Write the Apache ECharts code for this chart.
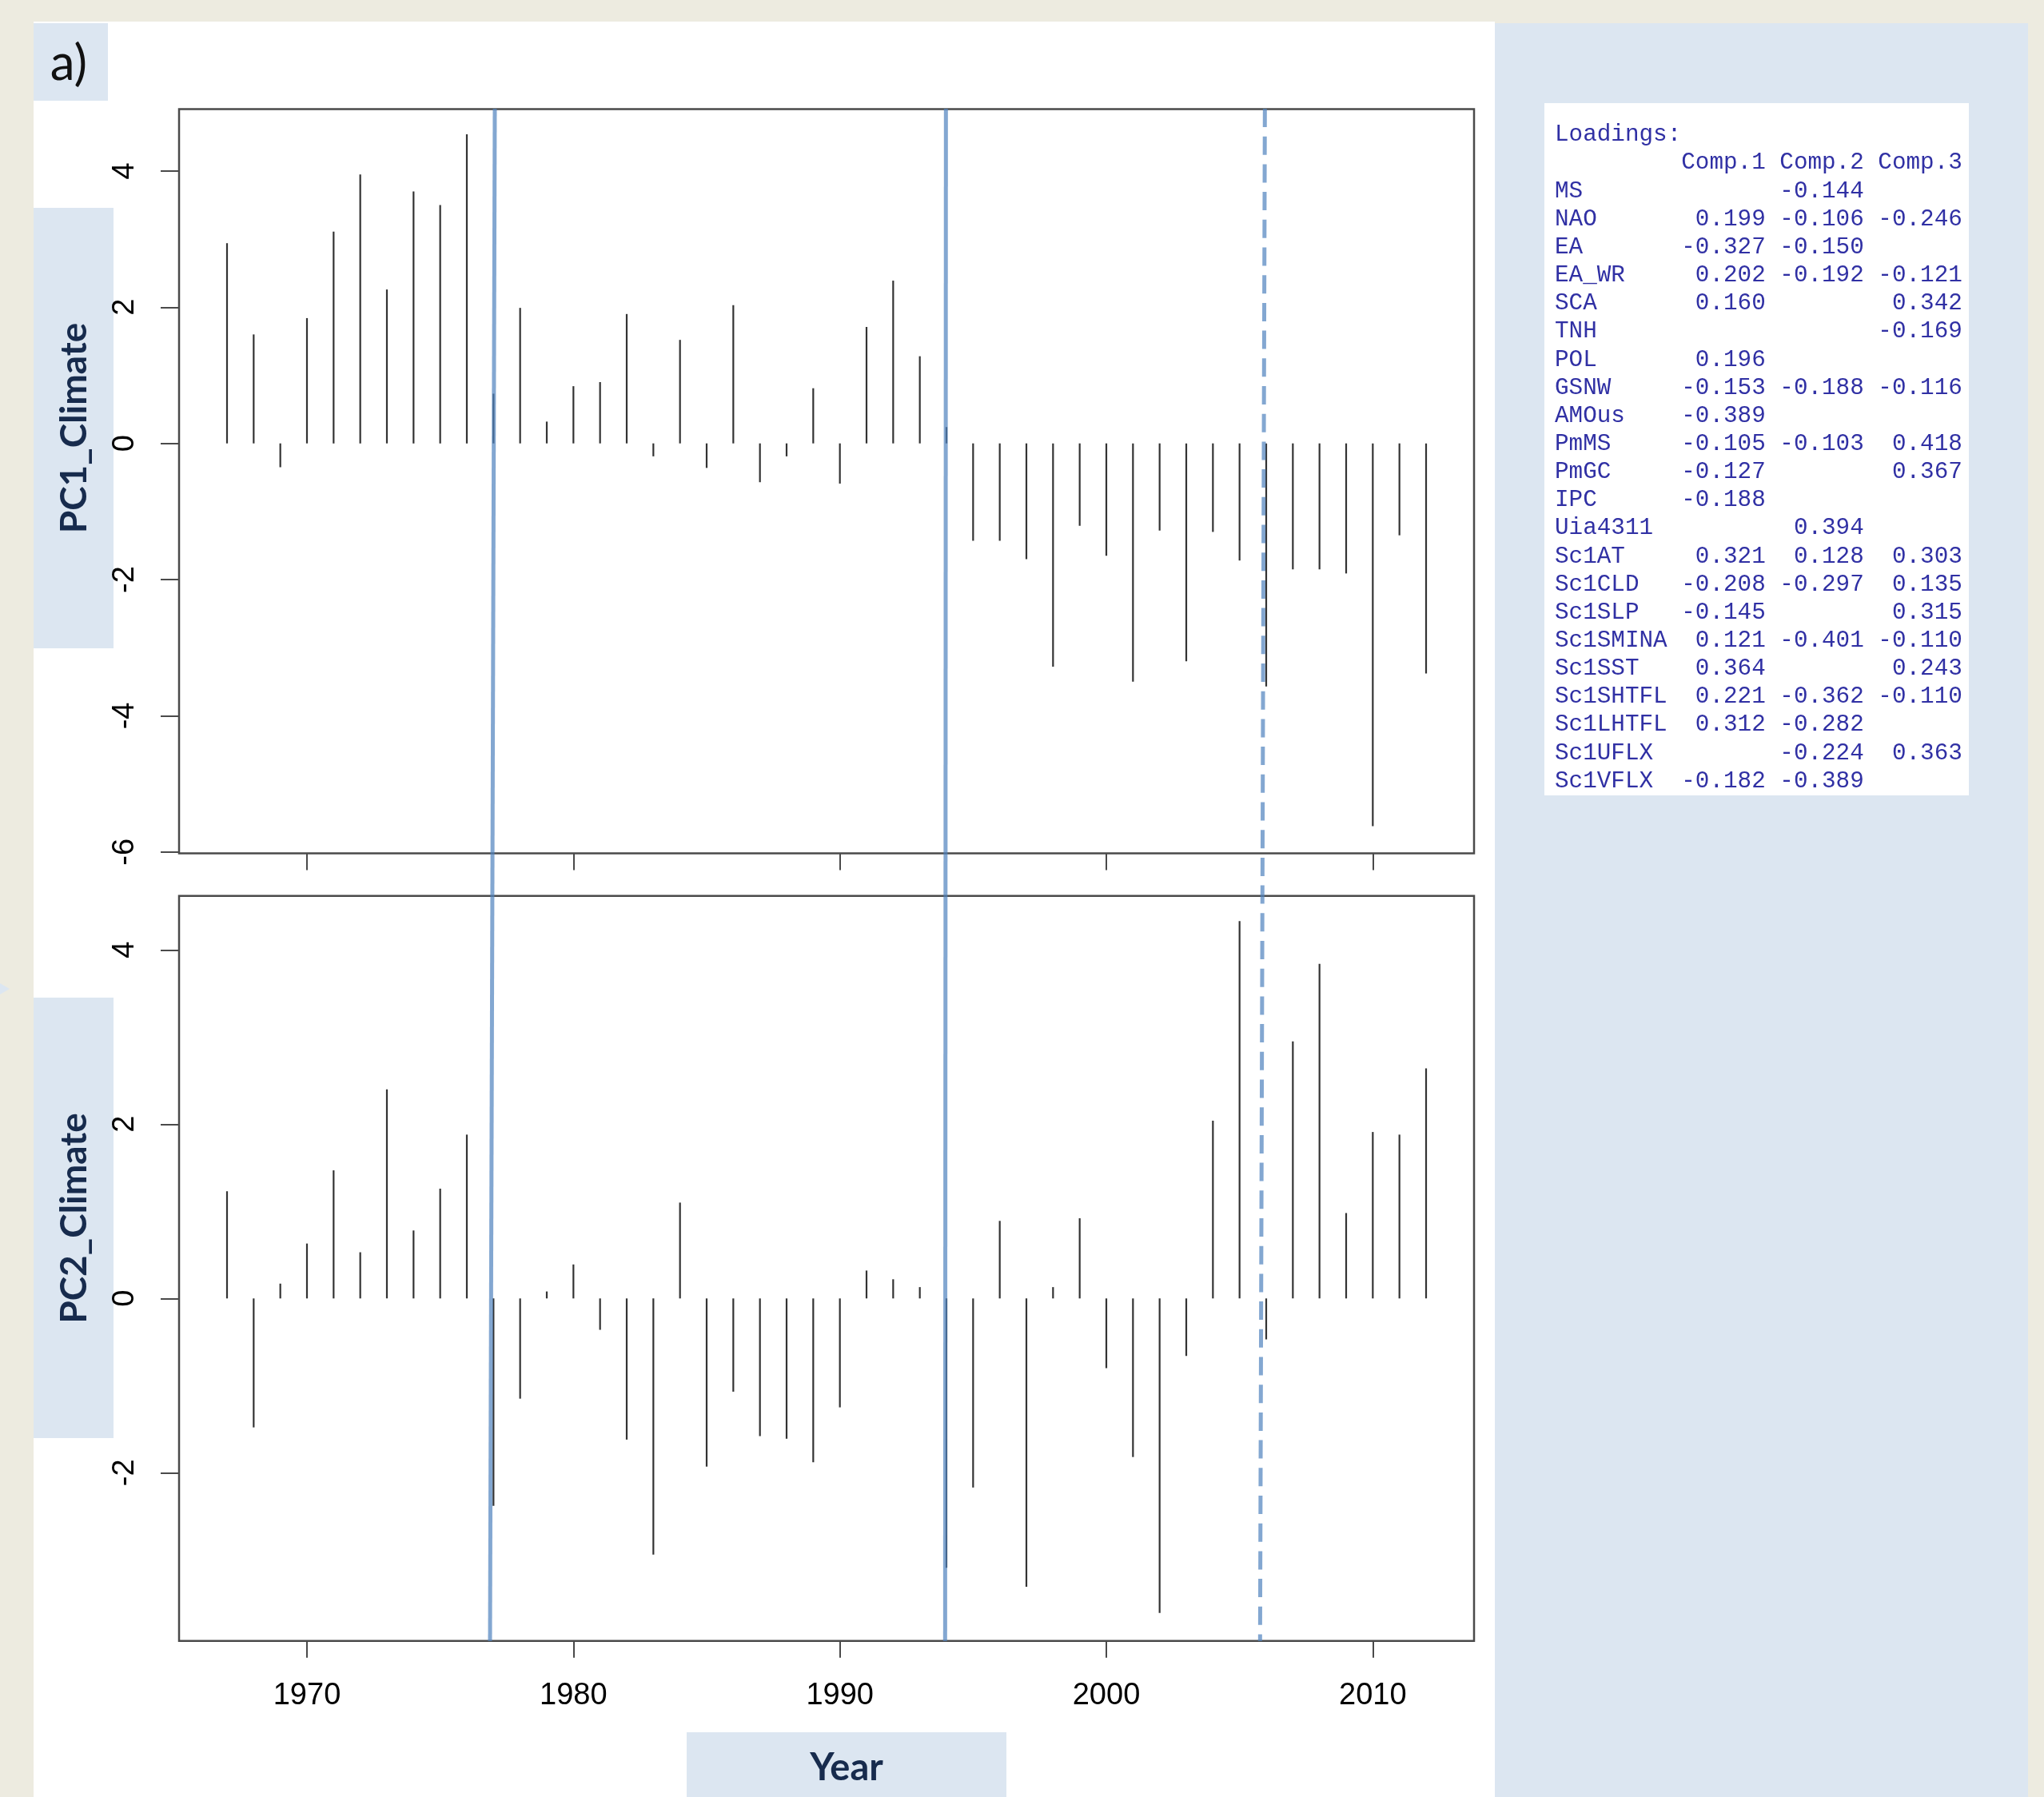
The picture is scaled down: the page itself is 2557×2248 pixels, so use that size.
<!DOCTYPE html>
<html><head><meta charset="utf-8">
<script src="https://cdn.jsdelivr.net/npm/echarts@6/dist/echarts.min.js"></script>
<style>html,body{margin:0;padding:0;background:#EDEBE0;}#c{width:2557px;height:2248px;}</style>
</head><body><div id="c"></div>
<script>
// ---------- data ----------
const years = [1967,1968,1969,1970,1971,1972,1973,1974,1975,1976,1977,1978,1979,1980,1981,1982,1983,1984,1985,1986,1987,1988,1989,1990,1991,1992,1993,1994,1995,1996,1997,1998,1999,2000,2001,2002,2003,2004,2005,2006,2007,2008,2009,2010,2011,2012];
const pc1 = [2.94,1.60,-0.35,1.84,3.11,3.95,2.26,3.70,3.50,4.54,0.73,1.99,0.32,0.84,0.90,1.90,-0.19,1.52,-0.36,2.03,-0.57,-0.19,0.81,-0.59,1.71,2.39,1.28,0.24,-1.43,-1.43,-1.70,-3.28,-1.21,-1.65,-3.50,-1.28,-3.20,-1.30,-1.72,-3.57,-1.85,-1.85,-1.91,-5.62,-1.35,-3.38];
const pc2 = [1.23,-1.48,0.17,0.63,1.47,0.53,2.40,0.78,1.26,1.88,-2.38,-1.15,0.08,0.39,-0.36,-1.62,-2.94,1.10,-1.93,-1.07,-1.58,-1.61,-1.88,-1.25,0.32,0.22,0.13,-3.09,-2.17,0.89,-3.31,0.13,0.92,-0.80,-1.82,-3.61,-0.66,2.04,4.33,-0.47,2.95,3.84,0.98,1.91,1.88,2.64];
const xTicks = [1970,1980,1990,2000,2010];
const yTicks1 = [-6,-4,-2,0,2,4];
const yTicks2 = [-2,0,2,4];
// vertical break lines: x position at top and at bottom, style
const breakTop = [1977.05, 1993.98, 2005.95];
const breakBottom = [1976.87, 1993.95, 2005.77];
const breakDashed = [false, false, true];
// loadings table
const loadNames = ['MS','NAO','EA','EA_WR','SCA','TNH','POL','GSNW','AMOus','PmMS','PmGC','IPC','Uia4311','Sc1AT','Sc1CLD','Sc1SLP','Sc1SMINA','Sc1SST','Sc1SHTFL','Sc1LHTFL','Sc1UFLX','Sc1VFLX'];
const comp1 = [null,0.199,-0.327,0.202,0.160,null,0.196,-0.153,-0.389,-0.105,-0.127,-0.188,null,0.321,-0.208,-0.145,0.121,0.364,0.221,0.312,null,-0.182];
const comp2 = [-0.144,-0.106,-0.150,-0.192,null,null,null,-0.188,null,-0.103,null,null,0.394,0.128,-0.297,null,-0.401,null,-0.362,-0.282,-0.224,-0.389];
const comp3 = [null,-0.246,null,-0.121,0.342,-0.169,null,-0.116,null,0.418,0.367,null,null,0.303,0.135,0.315,-0.110,0.243,-0.110,null,0.363,null];
const compNames = ['Comp.1','Comp.2','Comp.3'];

// ---------- build ----------
function fmt(v){ if(v==null) return '      '; return (v<0?'-':' ')+Math.abs(v).toFixed(3); }
const tableLines = ['Loadings:', ' '.repeat(9)+compNames.join(' ')];
loadNames.forEach((n,i)=>{ tableLines.push(n.padEnd(8)+' '+fmt(comp1[i])+' '+fmt(comp2[i])+' '+fmt(comp3[i])); });

const chart = echarts.init(document.getElementById('c'), null, {renderer:'canvas'});
const XMIN = 1965.2, XMAX = 2013.8;
const tickStyle = {color:'#4a4a4a', width:2};
const labelFont = {fontFamily:'Liberation Sans, Arial, sans-serif', fontSize:38, color:'#000'};
function stems(params, api){
  const x = api.value(0), v = api.value(1);
  const p0 = api.coord([x,0]), p1 = api.coord([x,v]);
  return {type:'line', shape:{x1:p0[0],y1:p0[1],x2:p1[0],y2:p1[1]}, style:{stroke:'#333', lineWidth:2.2}};
}
const grids = [
  {left:224, top:136.4, width:1620, height:931.1, show:true, borderColor:'#4a4a4a', borderWidth:2.5, backgroundColor:'transparent'},
  {left:224, top:1120.7, width:1620, height:932, show:true, borderColor:'#4a4a4a', borderWidth:2.5, backgroundColor:'transparent'},
  {left:224, top:136, width:1620, height:1917, show:false}
];
function xAx(gi, labels){
  return {type:'value', gridIndex:gi, min:XMIN, max:XMAX, position:'bottom',
    axisLine:{show:false, onZero:false}, splitLine:{show:false},
    axisTick:{show:true, customValues:xTicks, length:21, lineStyle:tickStyle},
    axisLabel:{show:labels, customValues:xTicks, margin:50, formatter:v=>String(v), ...labelFont}};
}
function yAx(gi, mn, mx, ticks){
  return {type:'value', gridIndex:gi, min:mn, max:mx, position:'left',
    axisLine:{show:false, onZero:false}, splitLine:{show:false},
    axisTick:{show:true, customValues:ticks, length:23, lineStyle:tickStyle},
    axisLabel:{show:true, customValues:ticks, rotate:90, margin:48, formatter:v=>String(v), ...labelFont}};
}
const option = {
  backgroundColor:'#EDEBE0',
  animation:false,
  grid: grids,
  xAxis:[xAx(0,false), xAx(1,true), {type:'value', gridIndex:2, min:XMIN, max:XMAX, show:false}],
  yAxis:[yAx(0,-6.02,4.91,yTicks1), yAx(1,-3.93,4.62,yTicks2), {type:'value', gridIndex:2, min:0, max:1, show:false}],
  series:[
    {type:'custom', xAxisIndex:0, yAxisIndex:0, renderItem:stems, data:years.map((y,i)=>[y,pc1[i]]), z:2},
    {type:'custom', xAxisIndex:1, yAxisIndex:1, renderItem:stems, data:years.map((y,i)=>[y,pc2[i]]), z:2},
    {type:'lines', coordinateSystem:'cartesian2d', xAxisIndex:2, yAxisIndex:2, z:5, silent:true,
      data: breakTop.map((t,i)=>({coords:[[t,1],[breakBottom[i],0]],
        lineStyle:{color:'#4F81BD', opacity:0.7, width:5, type: breakDashed[i]?[23,11.7]:'solid'}}))}
  ],
  graphic:[
    {type:'rect', z:-10, shape:{x:42,y:27,width:1828,height:2221}, style:{fill:'#FFFFFF'}},
    {type:'rect', z:-10, shape:{x:1870,y:29,width:667,height:2219}, style:{fill:'#DCE6F1'}},
    {type:'polygon', z:-10, shape:{points:[[0,1230],[12,1237],[0,1244]]}, style:{fill:'#DCE6F1'}},
    {type:'rect', z:-9, shape:{x:42,y:29,width:93,height:97}, style:{fill:'#DCE6F1'}},
    {type:'rect', z:-9, shape:{x:42,y:260,width:100,height:551}, style:{fill:'#DCE6F1'}},
    {type:'rect', z:-9, shape:{x:42,y:1248,width:100,height:551}, style:{fill:'#DCE6F1'}},
    {type:'rect', z:-9, shape:{x:859,y:2167,width:400,height:81}, style:{fill:'#DCE6F1'}},
    {type:'rect', z:-9, shape:{x:1932,y:129,width:531,height:866}, style:{fill:'#FFFFFF'}},
    {type:'text', z:10, x:86, y:80, style:{text:'a)', font:'62px Lato, "Open Sans", sans-serif', fill:'#111', align:'center', verticalAlign:'middle'}},
    {type:'text', z:10, x:93, y:535.5, rotation:Math.PI/2, style:{text:'PC1_Climate', font:'bold 46px Lato, "Open Sans", sans-serif', fill:'#172B4D', align:'center', verticalAlign:'middle'}},
    {type:'text', z:10, x:93, y:1524, rotation:Math.PI/2, style:{text:'PC2_Climate', font:'bold 46px Lato, "Open Sans", sans-serif', fill:'#172B4D', align:'center', verticalAlign:'middle'}},
    {type:'text', z:10, x:1059, y:2212, style:{text:'Year', font:'bold 47px Lato, "Open Sans", sans-serif', fill:'#172B4D', align:'center', verticalAlign:'middle'}},
    {type:'text', z:10, x:1945, y:151, style:{text:tableLines.join('\n'), font:'29.3px "Liberation Mono", "Courier New", monospace', lineHeight:35.15, fill:'#3030A4', align:'left', verticalAlign:'top'}}
  ]
};
chart.setOption(option);
</script></body></html>
